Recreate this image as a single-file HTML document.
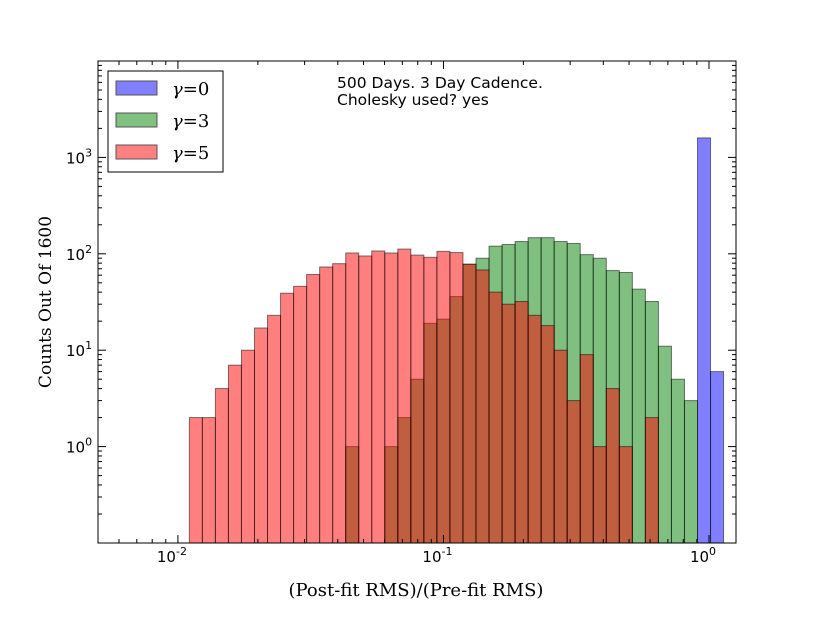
<!DOCTYPE html>
<html><head><meta charset="utf-8"><style>
body{margin:0;background:#fff;}
svg text{font-family:"DejaVu Sans","Liberation Sans",sans-serif;}
.serif{font-family:"DejaVu Serif","Liberation Serif",serif;}
</style></head><body>
<svg id="chart" width="817" height="617" viewBox="0 0 817 617" xmlns="http://www.w3.org/2000/svg">
<rect x="0" y="0" width="817" height="617" fill="#fff"/>
<g id="bars"></g>
<g id="ticks"></g>
<rect x="98" y="61" width="638" height="482" fill="none" stroke="#000" stroke-width="1"/>
<text x="416" y="596" text-anchor="middle" font-size="18" class="serif">(Post-fit RMS)/(Pre-fit RMS)</text>
<text transform="translate(51,302) rotate(-90)" text-anchor="middle" font-size="17" class="serif">Counts Out Of 1600</text>
<text x="337" y="88" font-size="15.5">500 Days. 3 Day Cadence.</text>
<text x="337" y="105" font-size="15.5">Cholesky used? yes</text>
<g>
<rect x="108" y="71" width="115" height="101" fill="#fff" stroke="#000" stroke-width="1"/>
<g><rect x="116" y="81" width="41" height="14" fill="#8080ff" stroke="#555"/><text x="172" y="95" font-size="18" class="serif" font-style="italic">γ<tspan font-style="normal">=0</tspan></text></g>
<g><rect x="116" y="113" width="41" height="14" fill="#80c080" stroke="#555"/><text x="172" y="127" font-size="18" class="serif" font-style="italic">γ<tspan font-style="normal">=3</tspan></text></g>
<g><rect x="116" y="145" width="41" height="14" fill="#ff8080" stroke="#555"/><text x="172" y="159" font-size="18" class="serif" font-style="italic">γ<tspan font-style="normal">=5</tspan></text></g>
</g>
</svg>
<script>
const binStartLog = -1.957;
const binWidthLog = 0.04907;
const gamma0Counts = [0,0,0,0,0,0,0,0,0,0,0,0,0,0,0,0,0,0,0,0,0,0,0,0,0,0,0,0,0,0,0,0,0,0,0,0,0,0,0,1594,6];
const gamma3Counts = [0,0,0,0,0,0,0,0,0,0,0,0,1,0,0,1,2,5,19,21,36,78,90,120,125,134,147,147,134,128,98,90,67,64,43,32,11,5,3,0,0];
const gamma5Counts = [2,2,4,7,10,17,23,39,46,61,73,79,102,95,107,102,112,97,92,106,103,78,68,40,30,32,23,18,10,3,9,1,4,1,0,2,0,0,0,0,0];
const xTickLabels = ["10","10","10"];
const xTickExps = ["-2","-1","0"];
const xTickValues = [-2,-1,0];
const yTickValues = [0,1,2,3];
const yTickExps = ["0","1","2","3"];

const X0=98,X1=736,Y0=61,Y1=543;
const xLogMin=-2.301, xLogMax=0.1017, yLogMin=-1, yLogMax=4;
function xs(l){return X0+(l-xLogMin)/(xLogMax-xLogMin)*(X1-X0);}
function ys(l){return Y1-(l-yLogMin)/(yLogMax-yLogMin)*(Y1-Y0);}
const NS="http://www.w3.org/2000/svg";
const bars=document.getElementById('bars');
const series=[["gamma0",gamma0Counts,"#0000ff"],["gamma3",gamma3Counts,"#008000"],["gamma5",gamma5Counts,"#ff0000"]];
series.forEach(function(s){
  s[1].forEach(function(c,i){
    if(c<=0) return;
    const l0=binStartLog+i*binWidthLog, l1=l0+binWidthLog;
    const r=document.createElementNS(NS,'rect');
    const x=xs(l0), w=xs(l1)-x, y=ys(Math.log10(c));
    r.setAttribute('x',x);r.setAttribute('y',y);r.setAttribute('width',w);r.setAttribute('height',Y1-y);
    r.setAttribute('fill',s[2]);r.setAttribute('fill-opacity','0.5');
    r.setAttribute('stroke','#000');r.setAttribute('stroke-opacity','0.5');r.setAttribute('stroke-width','1');
    
    
    bars.appendChild(r);
  });
});
const tk=document.getElementById('ticks');
function line(x1,y1,x2,y2){const l=document.createElementNS(NS,'line');l.setAttribute('x1',x1);l.setAttribute('y1',y1);l.setAttribute('x2',x2);l.setAttribute('y2',y2);l.setAttribute('stroke','#000');l.setAttribute('stroke-width','1');tk.appendChild(l);}
for(let d=-3;d<=0;d++){for(let m=1;m<=9;m++){const l=d+Math.log10(m);if(l<xLogMin||l>xLogMax)continue;const x=xs(l),len=m===1?8:4;line(x,Y1,x,Y1-len);line(x,Y0,x,Y0+len);}}
for(let d=-1;d<=3;d++){for(let m=1;m<=9;m++){const l=d+Math.log10(m);if(l<=yLogMin||l>=yLogMax)continue;const y=ys(l),len=m===1?8:4;line(X0,y,X0+len,y);line(X1,y,X1-len,y);}}
xTickValues.forEach(function(v,i){
  const t=document.createElementNS(NS,'text');t.setAttribute('x',xs(v)-6);t.setAttribute('y',Y1+19);t.setAttribute('text-anchor','middle');t.setAttribute('font-size','15');
  t.innerHTML=xTickLabels[i]+'<tspan dy="-7" font-size="11">'+xTickExps[i]+'</tspan>';
  
  
  tk.appendChild(t);
});
yTickValues.forEach(function(v,i){
  const t=document.createElementNS(NS,'text');t.setAttribute('x',X0-32);t.setAttribute('y',ys(v)+6);t.setAttribute('font-size','15');
  t.innerHTML='10<tspan dy="-7" font-size="11">'+yTickExps[i]+'</tspan>';
  
  
  tk.appendChild(t);
});
</script>
</body></html>
